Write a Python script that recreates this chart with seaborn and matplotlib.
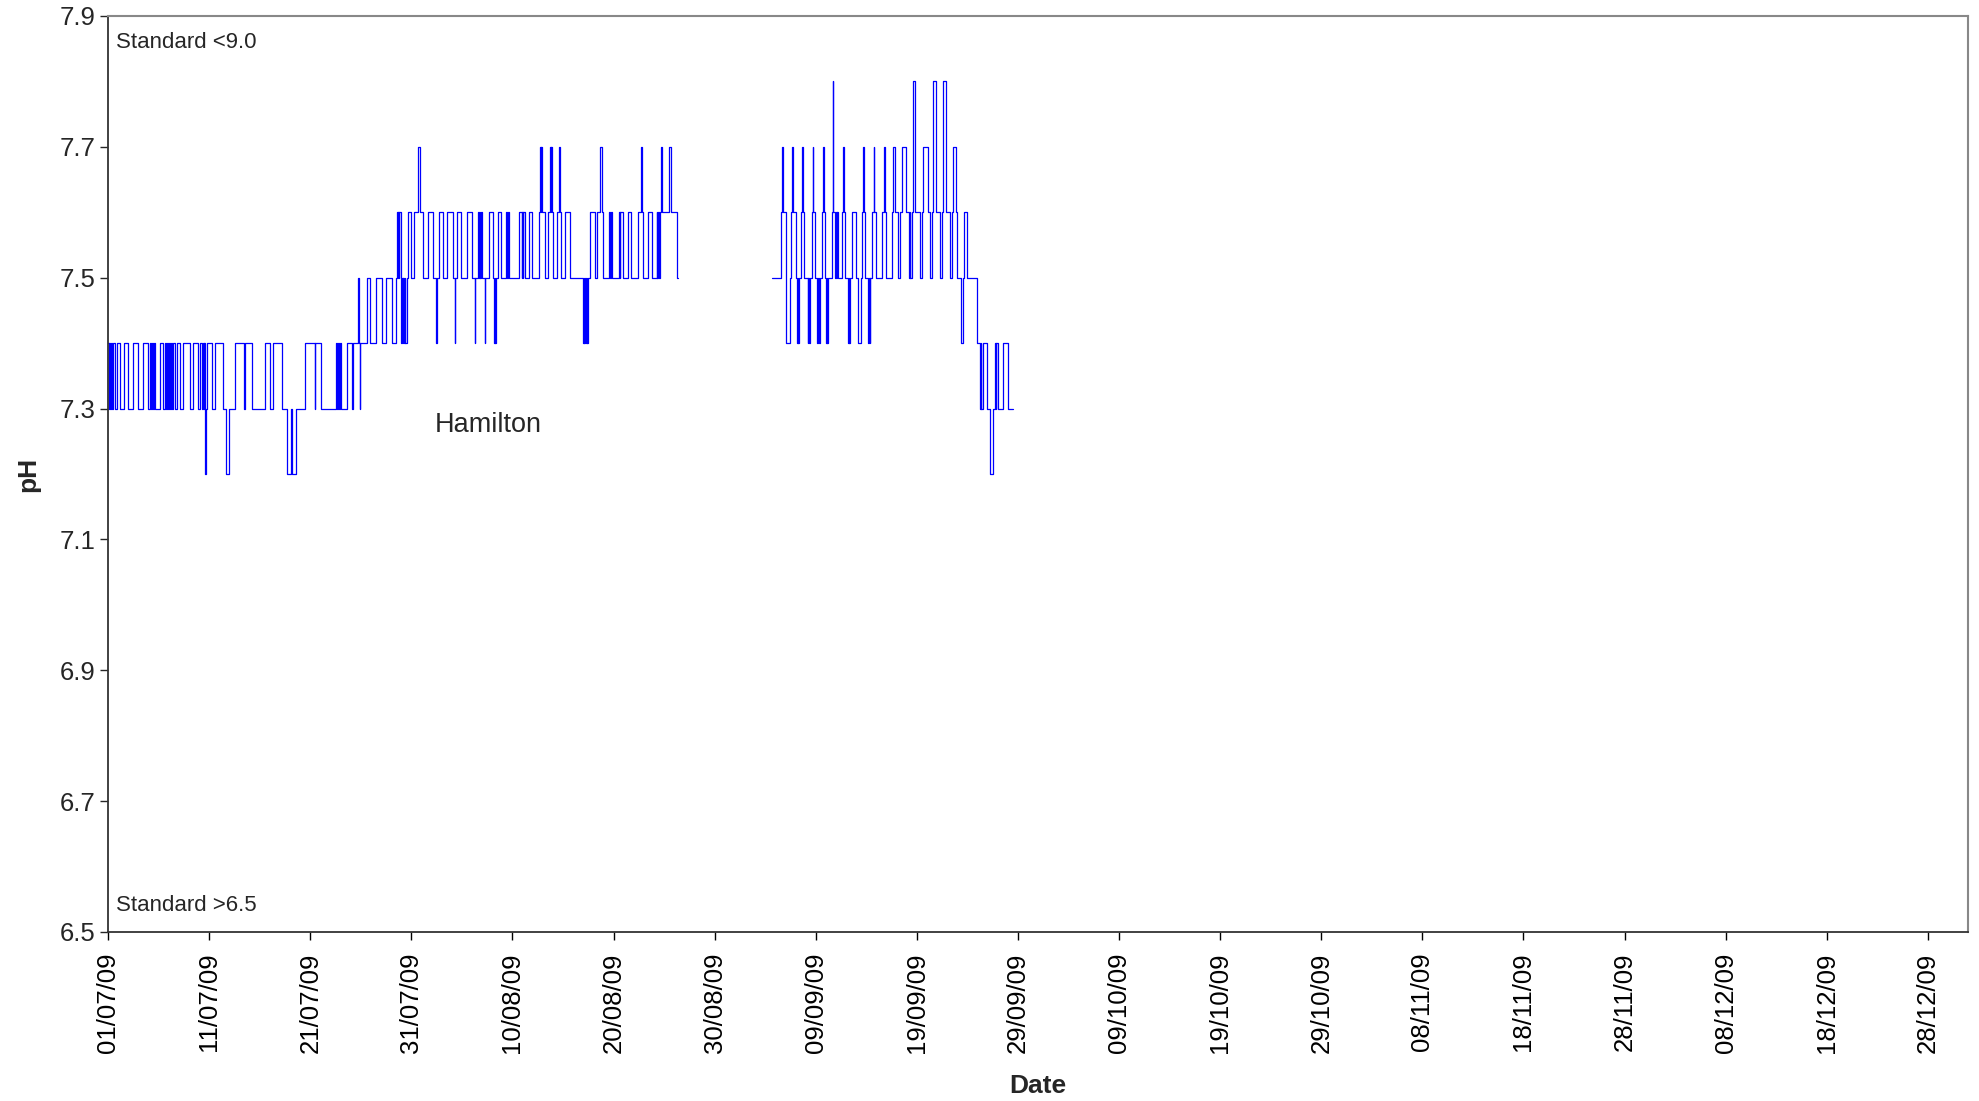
import pandas as pd
import matplotlib
matplotlib.use("Agg")
import matplotlib.pyplot as plt
import matplotlib.dates as mdates
import seaborn as sns

# pH readings (Hamilton), step changes: day offset from 01/07/09 and value
jul_aug_day = [0.00, 0.08, 0.13, 0.20, 0.25, 0.36, 0.53, 0.69, 0.86, 1.19, 1.62, 2.01, 2.50, 2.93,
               3.50, 3.99, 4.15, 4.25, 4.32, 4.42, 4.50, 4.65, 5.14, 5.47, 5.64, 5.75, 5.82, 5.95,
               6.02, 6.15, 6.22, 6.35, 6.42, 6.63, 6.79, 7.12, 7.45, 8.11, 8.44, 8.93, 9.10, 9.30,
               9.36, 9.45, 9.50, 9.58, 9.62, 9.65, 9.75, 10.25, 10.60, 11.40, 11.70, 12.00, 12.60,
               13.40, 13.55, 14.20, 15.50, 16.00, 16.35, 17.20, 17.70, 18.10, 18.18, 18.60, 19.45,
               20.45, 20.50, 21.04, 22.55, 22.65, 22.72, 22.85, 22.92, 23.05, 23.60, 24.15, 24.22,
               24.72, 24.78, 24.88, 24.95, 25.60, 25.90, 26.50, 27.10, 27.50, 28.10, 28.50, 28.58,
               28.63, 28.68, 28.73, 28.78, 28.95, 29.02, 29.08, 29.14, 29.22, 29.28, 29.36, 29.42,
               29.55, 29.62, 29.98, 30.30, 30.65, 30.90, 31.19, 31.62, 32.11, 32.45, 32.55, 32.77,
               33.10, 33.50, 34.09, 34.28, 34.35, 34.49, 34.88, 35.54, 35.97, 36.26, 36.34, 36.63,
               36.70, 36.76, 36.83, 36.90, 36.96, 37.25, 37.33, 37.72, 38.11, 38.22, 38.27, 38.31,
               38.38, 38.60, 38.90, 39.40, 39.50, 39.56, 39.70, 40.60, 40.90, 40.96, 41.02, 41.08,
               41.20, 41.60, 41.90, 42.60, 42.70, 42.78, 42.82, 42.90, 43.20, 43.55, 43.70, 43.80,
               43.85, 43.90, 44.05, 44.40, 44.62, 44.70, 44.85, 45.20, 45.70, 47.00, 47.08, 47.12,
               47.20, 47.25, 47.35, 47.40, 47.50, 47.65, 48.20, 48.40, 48.62, 48.85, 49.00, 49.50,
               49.65, 49.70, 49.85, 50.55, 50.62, 50.68, 50.90, 51.40, 51.70, 52.45, 52.68, 52.85,
               52.95, 53.45, 53.78, 54.25, 54.32, 54.38, 54.45, 54.62, 54.66, 54.80, 55.48, 55.68,
               56.30, 56.35]
jul_aug_ph = [7.4, 7.3, 7.4, 7.3, 7.4, 7.3, 7.4, 7.3, 7.4, 7.3, 7.4, 7.3, 7.4, 7.3,
              7.4, 7.3, 7.4, 7.3, 7.4, 7.3, 7.4, 7.3, 7.4, 7.3, 7.4, 7.3, 7.4, 7.3,
              7.4, 7.3, 7.4, 7.3, 7.4, 7.3, 7.4, 7.3, 7.4, 7.3, 7.4, 7.3, 7.4, 7.3,
              7.4, 7.3, 7.4, 7.3, 7.2, 7.3, 7.4, 7.3, 7.4, 7.3, 7.2, 7.3, 7.4,
              7.3, 7.4, 7.3, 7.4, 7.3, 7.4, 7.3, 7.2, 7.3, 7.2, 7.3, 7.4,
              7.3, 7.4, 7.3, 7.4, 7.3, 7.4, 7.3, 7.4, 7.3, 7.4, 7.3, 7.4,
              7.5, 7.4, 7.3, 7.4, 7.5, 7.4, 7.5, 7.4, 7.5, 7.4, 7.5, 7.6,
              7.5, 7.6, 7.5, 7.6, 7.5, 7.4, 7.5, 7.4, 7.5, 7.4, 7.5, 7.4,
              7.5, 7.6, 7.5, 7.6, 7.7, 7.6, 7.5, 7.6, 7.5, 7.4, 7.5, 7.6,
              7.5, 7.6, 7.5, 7.4, 7.5, 7.6, 7.5, 7.6, 7.5, 7.4, 7.5, 7.6,
              7.5, 7.6, 7.5, 7.6, 7.5, 7.4, 7.5, 7.6, 7.5, 7.4, 7.5, 7.4,
              7.5, 7.6, 7.5, 7.6, 7.5, 7.6, 7.5, 7.6, 7.5, 7.6, 7.5, 7.6,
              7.5, 7.6, 7.5, 7.6, 7.7, 7.6, 7.7, 7.6, 7.5, 7.6, 7.7, 7.6,
              7.7, 7.6, 7.5, 7.6, 7.7, 7.6, 7.5, 7.6, 7.5, 7.4, 7.5, 7.4,
              7.5, 7.4, 7.5, 7.4, 7.5, 7.6, 7.5, 7.6, 7.7, 7.6, 7.5, 7.6,
              7.5, 7.6, 7.5, 7.6, 7.5, 7.6, 7.5, 7.6, 7.5, 7.6, 7.7, 7.6,
              7.5, 7.6, 7.5, 7.6, 7.5, 7.6, 7.5, 7.6, 7.7, 7.6, 7.7, 7.6,
              7.5, 7.5]

sep_day = [65.65, 66.57, 66.68, 66.78, 67.03, 67.08, 67.46, 67.52, 67.68, 67.76, 68.00, 68.15,
           68.22, 68.28, 68.38, 68.55, 68.68, 68.74, 68.88, 69.20, 69.27, 69.32, 69.44, 69.60,
           69.68, 69.74, 69.93, 70.10, 70.20, 70.28, 70.43, 70.66, 70.73, 70.78, 70.92, 71.00,
           71.07, 71.12, 71.18, 71.58, 71.68, 71.74, 71.91, 72.00, 72.06, 72.12, 72.20, 72.57,
           72.70, 72.76, 72.90, 73.20, 73.28, 73.33, 73.40, 73.62, 73.95, 74.15, 74.48, 74.61,
           74.72, 74.78, 74.87, 75.20, 75.27, 75.32, 75.40, 75.60, 75.74, 75.80, 75.93, 76.59,
           76.76, 76.82, 76.92, 77.50, 77.60, 77.81, 78.17, 78.30, 78.55, 78.90, 79.26, 79.32,
           79.36, 79.49, 79.66, 79.85, 80.32, 80.48, 80.65, 81.14, 81.31, 81.47, 81.64, 81.90,
           82.30, 82.46, 82.62, 82.89, 83.28, 83.45, 83.61, 83.88, 84.00, 84.34, 84.53, 84.67,
           84.93, 85.98, 86.25, 86.32, 86.38, 86.50, 86.90, 87.24, 87.57, 87.73, 87.80, 87.86,
           88.06, 88.56, 89.05, 89.55]
sep_ph = [7.5, 7.6, 7.7, 7.6, 7.5, 7.4, 7.5, 7.6, 7.7, 7.6, 7.5, 7.4,
          7.5, 7.4, 7.5, 7.6, 7.7, 7.6, 7.5, 7.4, 7.5, 7.4, 7.5, 7.6,
          7.7, 7.6, 7.5, 7.4, 7.5, 7.4, 7.5, 7.6, 7.7, 7.6, 7.5, 7.4,
          7.5, 7.4, 7.5, 7.6, 7.8, 7.6, 7.5, 7.6, 7.5, 7.6, 7.5, 7.6,
          7.7, 7.6, 7.5, 7.4, 7.5, 7.4, 7.5, 7.6, 7.5, 7.4, 7.5, 7.6,
          7.7, 7.6, 7.5, 7.4, 7.5, 7.4, 7.5, 7.6, 7.7, 7.6, 7.5, 7.6,
          7.7, 7.6, 7.5, 7.6, 7.7, 7.6, 7.5, 7.6, 7.7, 7.6, 7.5, 7.6,
          7.5, 7.6, 7.8, 7.6, 7.5, 7.6, 7.7, 7.6, 7.5, 7.6, 7.8, 7.6,
          7.5, 7.6, 7.8, 7.6, 7.5, 7.6, 7.7, 7.6, 7.5, 7.4, 7.5, 7.6,
          7.5, 7.4, 7.3, 7.4, 7.3, 7.4, 7.3, 7.2, 7.3, 7.4, 7.3, 7.4,
          7.3, 7.4, 7.3, 7.3]

y_ticks = [6.5, 6.7, 6.9, 7.1, 7.3, 7.5, 7.7, 7.9]
start = pd.Timestamp("2009-07-01")

df = pd.concat([
    pd.DataFrame({"day": jul_aug_day, "ph": jul_aug_ph, "segment": 0}),
    pd.DataFrame({"day": sep_day, "ph": sep_ph, "segment": 1}),
], ignore_index=True)
df["date"] = start + pd.to_timedelta(df["day"], unit="D")

sns.set_style("white")
plt.rcParams["font.family"] = ["Liberation Sans", "DejaVu Sans"]

fig = plt.figure(figsize=(19.79, 11.01), dpi=100)
ax = fig.add_axes([0.0546, 0.1535, 0.94, 0.832])

sns.lineplot(data=df, x="date", y="ph", units="segment", estimator=None, sort=False,
             drawstyle="steps-post", color="#0000FF", linewidth=0.9, ax=ax)

ax.set_xlim(start, pd.Timestamp("2010-01-01"))
ax.set_ylim(6.5, 7.9)
ax.set_yticks(y_ticks)
ax.yaxis.set_major_formatter(plt.FormatStrFormatter("%.1f"))
ax.set_xticks(pd.date_range("2009-07-01", "2009-12-28", freq="10D"))
ax.xaxis.set_major_formatter(mdates.DateFormatter("%d/%m/%y"))
ax.tick_params(axis="x", rotation=90, labelsize=18.5, length=6, width=1, direction="out",
               pad=9, bottom=True, colors="black")
ax.tick_params(axis="y", labelsize=18.5, length=6, width=1, direction="out", pad=3, left=True)

for side in ["left", "bottom"]:
    ax.spines[side].set_color("#333333")
    ax.spines[side].set_linewidth(1.3)
for side in ["top", "right"]:
    ax.spines[side].set_color("#888888")
    ax.spines[side].set_linewidth(1.5)

ax.set_xlabel("Date", fontsize=19, fontweight="bold", labelpad=15)
ax.set_ylabel("pH", fontsize=19, fontweight="bold", labelpad=14)

ax.text(0.0045, 0.9715, "Standard <9.0", transform=ax.transAxes, fontsize=16, va="center", ha="left")
ax.text(0.0045, 0.0285, "Standard >6.5", transform=ax.transAxes, fontsize=16, va="center", ha="left")
ax.text(start + pd.Timedelta(days=37.6), 7.275, "Hamilton", fontsize=19.5, ha="center", va="center")

fig.savefig("out.png", dpi=100)
plt.close(fig)
